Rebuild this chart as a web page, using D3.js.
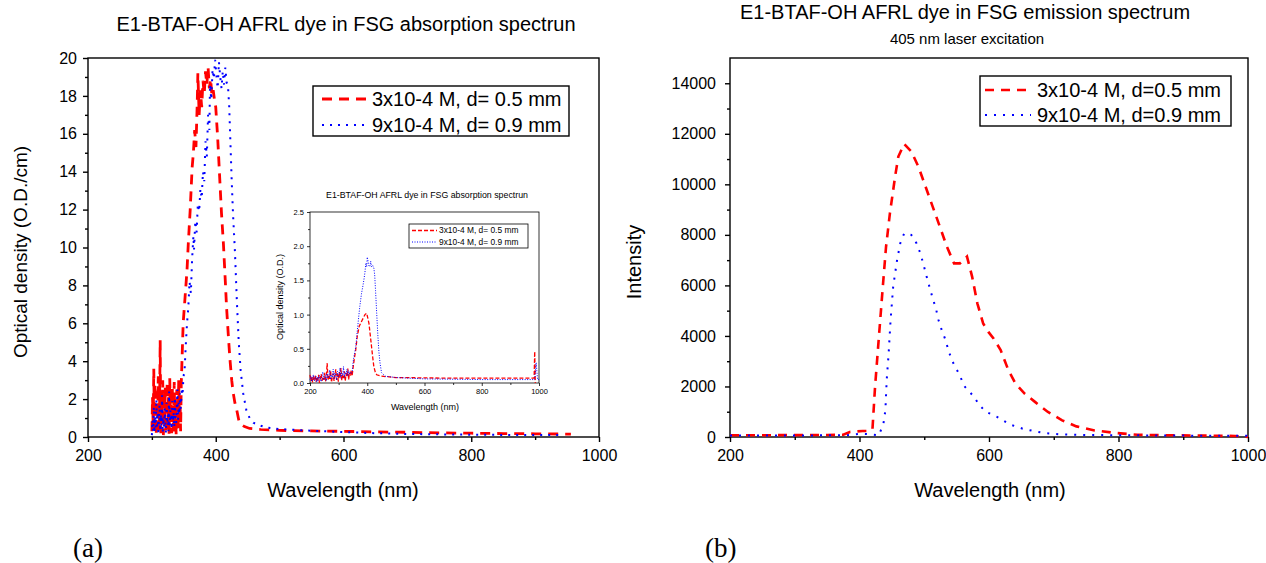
<!DOCTYPE html>
<meta charset="utf-8">
<script src="https://d3js.org/d3.v7.min.js"></script>
<style>
  body { margin: 0; background: #fff; }
  text { font-family: "Liberation Sans", Arial, sans-serif; fill: #000; }
</style>
<div id="chart"></div>

<script>
    // ---------- data ----------
    const wlTicks = [200, 400, 600, 800, 1000];
    const wlMinor = [300, 500, 700, 900];

    // (a) absorption, O.D./cm
    const absTicks = [0, 2, 4, 6, 8, 10, 12, 14, 16, 18, 20];
    const absMinor = [1, 3, 5, 7, 9, 11, 13, 15, 17, 19];
    // noisy part, one value per nm starting at 300 nm
    const absNoiseStart = 300;
    const absRedNoise = [0.3, 2.1, 0.6, 3.6, 0.2, 2.8, 1.1, 0.1, 2.4, 0.5, 3.2, 0.3, 1.4, 5.1, 0.2, 2.3,
        0.7, 3.0, 0.1, 1.8, 0.5, 2.6, 0.2, 1.3, 2.9, 0.4, 2.1, 0.1, 3.1, 0.8, 1.7, 0.2, 2.6, 1.0, 0.3, 2.9,
        0.6, 2.0, 0.1, 2.5, 1.2, 0.4, 3.0, 0.9, 2.2, 0.3];
    const absBlueNoise = [0.1, 0.9, 0.3, 1.6, 0.2, 1.1, 0.5, 2.0, 0.4, 1.3, 0.1, 0.8, 1.7, 0.3, 1.2, 0.6,
        2.2, 0.2, 1.0, 0.5, 1.5, 0.9, 0.2, 1.8, 0.7, 1.2, 0.3, 2.4, 0.6, 1.4, 1.0, 0.4, 1.9, 0.8, 1.3, 0.5,
        2.1, 1.1, 0.7, 1.6, 2.5, 0.9, 1.8, 1.2, 2.3, 1.5, 2.0, 2.6, 2.2, 2.9, 3.3];
    const absRed = [[346, 2.8], [349, 6.0], [352, 7.4], [355, 8.8], [357, 10.2], [360, 12.0], [363, 14.2],
        [365, 15.0], [367, 16.2], [369, 15.3], [371, 17.6], [372, 19.2], [374, 17.0], [376, 18.3], [378, 17.4],
        [380, 18.8], [382, 18.1], [384, 19.3], [386, 18.6], [388, 19.5], [390, 18.4], [392, 18.9], [394, 18.0],
        [396, 18.3], [398, 17.8], [400, 17.4], [403, 15.8], [406, 13.8], [409, 11.8], [412, 10.2], [415, 8.2],
        [417, 6.8], [420, 5.2], [422, 4.2], [425, 3.0], [427, 2.4], [430, 1.8], [433, 1.4], [436, 0.9],
        [438, 0.7], [445, 0.55], [453, 0.45], [470, 0.4], [500, 0.35], [550, 0.32], [600, 0.3], [650, 0.27],
        [700, 0.25], [750, 0.22], [800, 0.2], [850, 0.18], [900, 0.17], [956, 0.15]];
    const absBlue = [[351, 3.4], [353, 4.8], [355, 6.0], [357, 6.8], [359, 8.2], [361, 7.6], [363, 9.4],
        [365, 10.6], [366, 9.9], [368, 11.4], [370, 10.8], [372, 12.3], [374, 11.9], [376, 13.1], [378, 12.6],
        [380, 14.0], [382, 13.5], [384, 15.6], [386, 14.8], [388, 17.0], [390, 16.2], [391, 18.6], [393, 17.8],
        [395, 19.4], [397, 18.9], [399, 19.9], [401, 19.1], [403, 18.4], [405, 19.8], [407, 19.0], [409, 18.4],
        [411, 19.3], [413, 18.6], [415, 19.5], [417, 18.7], [419, 18.6], [421, 17.5], [423, 15.5], [425, 13.5],
        [427, 11.8], [430, 9.8], [433, 7.2], [436, 5.0], [439, 3.5], [443, 2.3], [448, 1.4], [453, 1.0],
        [459, 0.75], [470, 0.6], [480, 0.5], [500, 0.42], [550, 0.33], [600, 0.26], [650, 0.2], [700, 0.16],
        [750, 0.14], [800, 0.12], [850, 0.11], [900, 0.1], [942, 0.1]];

    // inset, O.D.
    const inTicks = [0, 0.5, 1.0, 1.5, 2.0, 2.5];
    const inMinor = [0.25, 0.75, 1.25, 1.75, 2.25];
    const inNoiseStart = 200; // one value every 3 nm
    const inRedNoise = [0.12, 0.03, 0.09, 0.01, 0.1, 0.05, 0.11, 0.02, 0.08, 0.04, 0.12, 0.0, 0.07, 0.13,
        0.03, 0.09, 0.05, 0.15, 0.02, 0.1, 0.29, 0.04, 0.12, 0.06, 0.18, 0.01, 0.09, 0.14, 0.03, 0.11, 0.2,
        0.05, 0.13, 0.02, 0.16, 0.08, 0.22, 0.04, 0.12, 0.07, 0.17, 0.03, 0.14, 0.09, 0.21, 0.05, 0.15, 0.1, 0.19];
    const inBlueNoise = [0.05, 0.1, 0.02, 0.08, 0.12, 0.03, 0.06, 0.1, 0.01, 0.09, 0.04, 0.11, 0.06, 0.02,
        0.1, 0.16, 0.04, 0.08, 0.12, 0.03, 0.14, 0.07, 0.1, 0.19, 0.05, 0.12, 0.08, 0.2, 0.06, 0.15, 0.1, 0.04,
        0.17, 0.09, 0.13, 0.22, 0.07, 0.15, 0.11, 0.24, 0.08, 0.16, 0.12, 0.2, 0.1, 0.18, 0.13, 0.16, 0.14];
    const inRed = [[347, 0.1], [351, 0.24], [355, 0.36], [360, 0.49], [365, 0.68], [372, 0.83], [380, 0.9],
        [386, 0.95], [392, 1.0], [398, 1.02], [402, 0.95], [406, 0.87], [410, 0.72], [415, 0.53], [419, 0.38],
        [423, 0.24], [428, 0.16], [433, 0.12], [450, 0.1], [500, 0.08], [600, 0.075], [700, 0.07], [800, 0.07],
        [900, 0.07], [983, 0.07], [985, 0.46], [987, 0.0]];
    const inBlue = [[347, 0.15], [351, 0.32], [355, 0.42], [360, 0.53], [365, 0.75], [369, 0.92], [374, 1.12],
        [380, 1.31], [384, 1.4], [388, 1.5], [392, 1.62], [395, 1.75], [398, 1.7], [400, 1.84], [402, 1.8],
        [405, 1.72], [409, 1.7], [412, 1.78], [415, 1.7], [419, 1.72], [423, 1.68], [426, 1.58], [429, 1.35],
        [433, 1.02], [437, 0.7], [441, 0.44], [445, 0.28], [450, 0.15], [462, 0.1], [500, 0.08], [600, 0.06],
        [700, 0.055], [800, 0.05], [900, 0.05], [985, 0.05], [990, 0.3], [995, 0.05], [1000, 0.05]];

    // (b) emission, intensity
    const emTicks = [0, 2000, 4000, 6000, 8000, 10000, 12000, 14000];
    const emMinor = [1000, 3000, 5000, 7000, 9000, 11000, 13000];
    const emRed = [[200, 70], [250, 70], [300, 75], [350, 80], [375, 90], [385, 200], [395, 220], [405, 240],
        [413, 240], [420, 300], [424, 1980], [430, 3970], [436, 5950], [441, 7530], [447, 8860], [455, 10310],
        [460, 11100], [469, 11600], [480, 11300], [491, 10700], [502, 9910], [513, 9120], [524, 8330],
        [535, 7530], [546, 6870], [555, 6870], [566, 7140], [574, 6340], [582, 5290], [591, 4490], [599, 4160],
        [607, 3900], [618, 3440], [630, 2640], [641, 2110], [655, 1720], [671, 1390], [691, 990], [713, 660],
        [735, 420], [763, 260], [796, 160], [829, 90], [870, 70], [920, 60], [980, 40], [1000, 0]];
    const emBlue = [[200, 60], [300, 60], [380, 70], [400, 130], [416, 110], [430, 70], [437, 530], [440, 1060],
        [442, 2250], [445, 3300], [448, 4630], [452, 5950], [458, 7000], [463, 7670], [469, 8060], [480, 8000],
        [488, 7670], [494, 7270], [499, 6810], [503, 6410], [508, 5950], [513, 5490], [518, 5090], [522, 4630],
        [527, 4230], [533, 3830], [538, 3370], [544, 2970], [552, 2580], [563, 1980], [577, 1590], [585, 1260],
        [596, 990], [613, 790], [632, 500], [652, 330], [668, 240], [685, 160], [707, 110], [750, 80], [800, 70],
        [900, 55], [1000, 50]];

    const absLegend = ["3x10-4 M, d= 0.5 mm", "9x10-4 M, d= 0.9 mm"];
    const emLegend = ["3x10-4 M, d=0.5 mm", "9x10-4 M, d=0.9 mm"];

    // ---------- drawing ----------
    const svg = d3.select("#chart")
        .append("svg")
        .attr("width", 1266)
        .attr("height", 563);

    const withNoise = (start, step, noise, rest) =>
        noise.map((v, i) => [start + i * step, v]).concat(rest);

    function panel(o) {
        const g = svg.append("g");
        const x = d3.scaleLinear().domain([200, 1000]).range([o.left, o.right]);
        const y = d3.scaleLinear().domain(o.ydom).range([o.bottom, o.top]);

        // minor + major ticks
        const axes = [
            [d3.axisBottom(x).tickValues(wlMinor).tickSize(o.minor).tickFormat(""), `translate(0,${o.bottom})`],
            [d3.axisLeft(y).tickValues(o.yMinor).tickSize(o.minor).tickFormat(""), `translate(${o.left},0)`],
            [d3.axisBottom(x).tickValues(wlTicks).tickSize(o.major).tickPadding(o.padX).tickFormat(d3.format("d")), `translate(0,${o.bottom})`],
            [d3.axisLeft(y).tickValues(o.yTicks).tickSize(o.major).tickPadding(o.padY).tickFormat(o.yfmt), `translate(${o.left},0)`]
        ];
        axes.forEach(([ax, tr]) => {
            const a = g.append("g").attr("transform", tr).call(ax);
            a.select(".domain").remove();
            a.selectAll("line").attr("stroke", "#000").attr("stroke-width", o.frameW);
            a.selectAll("text").style("font-size", o.tickFont + "px").attr("fill", "#000")
                .style("font-family", '"Liberation Sans", Arial, sans-serif');
        });

        g.append("rect")
            .attr("x", o.left).attr("y", o.top)
            .attr("width", o.right - o.left).attr("height", o.bottom - o.top)
            .attr("fill", "none").attr("stroke", "#000").attr("stroke-width", o.frameW);

        const line = d3.line().x(d => x(d[0])).y(d => y(d[1]));
        o.series.forEach(s => {
            g.append("path")
                .attr("d", line(s.data))
                .attr("fill", "none")
                .attr("stroke", s.color)
                .attr("stroke-width", s.width)
                .attr("stroke-dasharray", s.dash)
                .attr("stroke-linecap", s.cap || "butt");
        });

        // legend
        const L = o.legend;
        g.append("rect").attr("x", L.x).attr("y", L.y).attr("width", L.w).attr("height", L.h)
            .attr("fill", "#fff").attr("stroke", "#000").attr("stroke-width", L.stroke);
        o.series.forEach((s, i) => {
            const cy = L.rows[i];
            g.append("line").attr("x1", L.sx0).attr("x2", L.sx1).attr("y1", cy).attr("y2", cy)
                .attr("stroke", s.color).attr("stroke-width", s.width).attr("stroke-dasharray", s.dash)
                .attr("stroke-linecap", s.cap || "butt");
            g.append("text").attr("x", L.tx).attr("y", cy).attr("dy", "0.35em")
                .style("font-size", L.font + "px").text(L.labels[i]);
        });

        // titles
        g.append("text").attr("x", o.xTitle[0]).attr("y", o.xTitle[1]).attr("text-anchor", "middle")
            .style("font-size", o.xTitleFont + "px").text("Wavelength (nm)");
        g.append("text").attr("transform", `translate(${o.yTitle[0]},${o.yTitle[1]}) rotate(-90)`)
            .attr("text-anchor", "middle").style("font-size", o.yTitleFont + "px").text(o.yLabel);
        o.heads.forEach(h => {
            g.append("text").attr("x", h.x).attr("y", h.y).attr("text-anchor", "middle")
                .style("font-size", h.size + "px").text(h.text);
        });
        return g;
    }

    const RED = "#ff0000", BLUE = "#0000ff";

    // (a) main
    panel({
        left: 88, right: 599, top: 58, bottom: 437,
        ydom: [0, 20], yTicks: absTicks, yMinor: absMinor, yfmt: d3.format("d"),
        major: 5, minor: 3, padX: 8, padY: 6, tickFont: 16, frameW: 1.4,
        series: [
            { data: withNoise(absNoiseStart, 1, absRedNoise, absRed), color: RED, width: 2.8, dash: "10,7" },
            { data: withNoise(absNoiseStart, 1, absBlueNoise, absBlue), color: BLUE, width: 2, dash: "2,6" }
        ],
        legend: { x: 313, y: 86, w: 256, h: 50, stroke: 1.4, rows: [99, 125], sx0: 322, sx1: 367, tx: 372,
            font: 20, labels: absLegend },
        xTitle: [343, 497], yTitle: [27, 252], yLabel: "Optical density (O.D./cm)", xTitleFont: 20, yTitleFont: 19,
        heads: [{ x: 346, y: 31, size: 20, text: "E1-BTAF-OH AFRL dye in FSG absorption spectrun" }]
    });

    // (a) inset
    panel({
        left: 310, right: 539, top: 212, bottom: 383,
        ydom: [0, 2.5], yTicks: inTicks, yMinor: inMinor, yfmt: d3.format(".1f"),
        major: 3, minor: 2, padX: 3, padY: 3, tickFont: 7.5, frameW: 0.8,
        series: [
            { data: withNoise(inNoiseStart, 3, inRedNoise, inRed), color: RED, width: 1.3, dash: "4,2" },
            { data: withNoise(inNoiseStart, 3, inBlueNoise, inBlue), color: BLUE, width: 1, dash: "1,1.5" }
        ],
        legend: { x: 409, y: 224, w: 119, h: 24, stroke: 0.8, rows: [230.5, 242], sx0: 412, sx1: 437, tx: 439,
            font: 8.4, labels: absLegend },
        xTitle: [425, 410], yTitle: [283, 297], yLabel: "Optical density (O.D.)", xTitleFont: 9, yTitleFont: 9,
        heads: [{ x: 427, y: 198, size: 8.8, text: "E1-BTAF-OH AFRL dye in FSG absorption spectrun" }]
    });

    // (b)
    panel({
        left: 730, right: 1248, top: 58, bottom: 437,
        ydom: [0, 15000], yTicks: emTicks, yMinor: emMinor, yfmt: d3.format("d"),
        major: 5, minor: 3, padX: 8, padY: 9, tickFont: 16, frameW: 1.4,
        series: [
            { data: emRed, color: RED, width: 2.6, dash: "9,7" },
            { data: emBlue, color: BLUE, width: 2, dash: "2,7" }
        ],
        legend: { x: 980, y: 76, w: 251, h: 50, stroke: 1.4, rows: [90, 115], sx0: 985, sx1: 1031, tx: 1037,
            font: 20, labels: emLegend },
        xTitle: [990, 497], yTitle: [641, 262], yLabel: "Intensity", xTitleFont: 20, yTitleFont: 20,
        heads: [
            { x: 965, y: 19, size: 20, text: "E1-BTAF-OH AFRL dye in FSG emission spectrum" },
            { x: 967, y: 44, size: 15, text: "405 nm laser excitation" }
        ]
    });

    // panel letters
    svg.append("text").attr("x", 73).attr("y", 557).style("font-family", '"Liberation Serif", "Times New Roman", serif')
        .style("font-size", "27px").text("(a)");
    svg.append("text").attr("x", 705).attr("y", 557).style("font-family", '"Liberation Serif", "Times New Roman", serif')
        .style("font-size", "27px").text("(b)");
</script>
